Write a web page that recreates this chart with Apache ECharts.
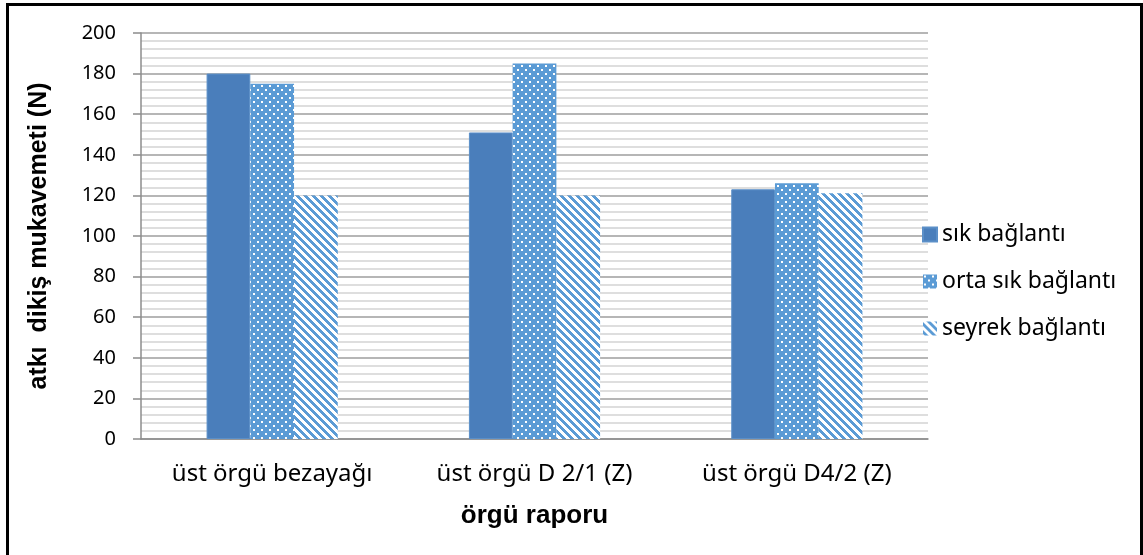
<!DOCTYPE html>
<html>
<head>
<meta charset="utf-8">
<script src="https://cdn.jsdelivr.net/npm/echarts@6/dist/echarts.min.js"></script>
<style>
html,body{margin:0;padding:0;background:#fff;}
#c{width:1143px;height:555px;}
</style>
</head>
<body>
<div id="c"></div>
<script>
const categories = ['üst örgü bezayağı', 'üst örgü D 2/1 (Z)', 'üst örgü D4/2 (Z)'];
const seriesNames = ['sık bağlantı', 'orta sık bağlantı', 'seyrek bağlantı'];
const sikValues = [180, 151, 123];
const ortaValues = [175, 185, 126];
const seyrekValues = [120, 120, 121];
const yTitle = 'atkı  dikiş mukavemeti (N)';
const xTitle = 'örgü raporu';

function dotPattern() {
  const c = document.createElement('canvas');
  c.width = 8; c.height = 8;
  const g = c.getContext('2d');
  g.fillStyle = '#5b9bd5'; g.fillRect(0, 0, 8, 8);
  g.fillStyle = '#ffffff';
  g.fillRect(1, 1, 2, 2);
  g.fillRect(5, 5, 2, 2);
  return c;
}
function stripePattern() {
  const c = document.createElement('canvas');
  const s = 8;
  c.width = s; c.height = s;
  const g = c.getContext('2d');
  g.fillStyle = '#5b9bd5'; g.fillRect(0, 0, s, s);
  g.fillStyle = '#ffffff';
  for (let y = 0; y < s; y++) {
    for (let x = 0; x < s; x++) {
      const d = ((x - y) % s + s) % s;
      if (d < 4) g.fillRect(x, y, 1, 1);
    }
  }
  return c;
}

const chart = echarts.init(document.getElementById('c'), null, {renderer: 'canvas'});
const font = 'Noto Sans';
chart.setOption({
  animation: false,
  backgroundColor: '#ffffff',
  grid: {left: 141, right: 215, top: 33, bottom: 116},
  legend: {
    orient: 'vertical',
    left: 917, top: 218,
    itemWidth: 14, itemHeight: 14,
    itemGap: 24,
    icon: 'rect',
    textStyle: {fontFamily: font, fontSize: 23, color: '#000'},
    data: seriesNames
  },
  xAxis: {
    type: 'category',
    data: categories,
    axisLine: {lineStyle: {color: '#8c8c8c', width: 1.5}},
    axisTick: {show: false},
    axisLabel: {fontFamily: font, fontSize: 24, color: '#000', margin: 23},
    name: xTitle,
    nameLocation: 'middle',
    nameGap: 64,
    nameTextStyle: {fontFamily: 'Liberation Sans', fontWeight: 'bold', fontSize: 26, color: '#000'}
  },
  yAxis: {
    type: 'value',
    min: 0, max: 200, interval: 20,
    axisLine: {show: true, lineStyle: {color: '#8c8c8c', width: 1.5}},
    axisTick: {show: true, length: 8, lineStyle: {color: '#8c8c8c', width: 1.5}},
    axisLabel: {fontFamily: font, fontSize: 20, color: '#000', margin: 25},
    splitLine: {lineStyle: {color: '#9e9e9e', width: 1.5}},
    minorTick: {show: false, splitNumber: 5},
    minorSplitLine: {show: true, lineStyle: {color: '#d4d4d4', width: 1.5}},
    name: yTitle,
    nameLocation: 'middle',
    nameRotate: 90,
    nameGap: 89,
    nameTextStyle: {fontFamily: 'Liberation Sans', fontWeight: 'bold', fontSize: 25, color: '#000'}
  },
  series: [
    {name: seriesNames[0], type: 'bar', data: sikValues, barGap: '0%', barCategoryGap: '50%',
     itemStyle: {color: '#4a7ebb', borderColor: '#5b8fc8', borderWidth: 1}},
    {name: seriesNames[1], type: 'bar', data: ortaValues, barGap: '0%', barCategoryGap: '50%',
     itemStyle: {color: {image: dotPattern(), repeat: 'repeat'}}},
    {name: seriesNames[2], type: 'bar', data: seyrekValues, barGap: '0%', barCategoryGap: '50%',
     itemStyle: {color: {image: stripePattern(), repeat: 'repeat'}}}
  ],
  graphic: [{
    type: 'rect',
    shape: {x: 7.5, y: 4.5, width: 1134, height: 570},
    style: {fill: 'none', stroke: '#000', lineWidth: 3},
    silent: true, z: 100
  }]
});
</script>
</body>
</html>
